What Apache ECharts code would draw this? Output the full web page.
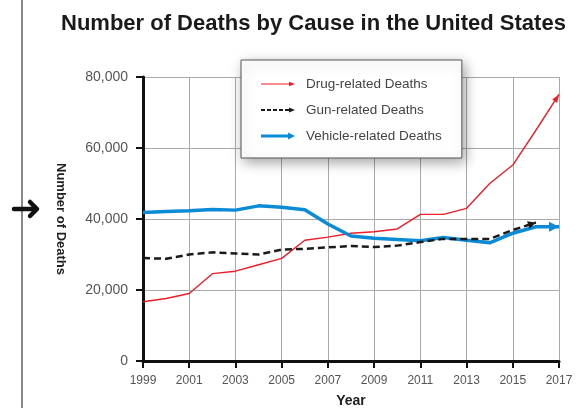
<!DOCTYPE html>
<html>
<head>
    <title>Number of Deaths by Cause</title>
    <script src="https://cdn.jsdelivr.net/npm/echarts@6/dist/echarts.min.js"></script>
    <style>
        body { margin: 0; background: #fff; }
        #chart { width: 580px; height: 408px; }
    </style>
</head>
<body>
    <div id="chart"></div>
    <script>
        // 数据
        const years = [1999, 2000, 2001, 2002, 2003, 2004, 2005, 2006, 2007, 2008,
                       2009, 2010, 2011, 2012, 2013, 2014, 2015, 2016, 2017];
        const drugDeaths = [16700, 17600, 19000, 24600, 25300, 27100, 28900, 34000, 34900, 36000,
                            36400, 37200, 41300, 41300, 43000, 50000, 55200, 65000, 75100];
        const gunDeaths = [29000, 28800, 30000, 30600, 30300, 30000, 31400, 31600, 32000, 32400,
                           32100, 32500, 33500, 34400, 34400, 34400, 36900, 39000];
        const vehicleDeaths = [41800, 42100, 42300, 42700, 42500, 43700, 43300, 42600, 38600, 35200,
                               34600, 34200, 33900, 34800, 34000, 33300, 36000, 37800, 37800];
        const seriesNames = ['Drug-related Deaths', 'Gun-related Deaths', 'Vehicle-related Deaths'];

        const font = 'Liberation Sans, Arial, sans-serif';
        const chart = echarts.init(document.getElementById('chart'));

        function pairs(vals) {
            return vals.map((v, i) => [years[i], v]);
        }

        const option = {
            backgroundColor: '#fff',
            animation: false,
            title: {
                text: 'Number of Deaths by Cause in the United States',
                left: 56, top: 8,
                textStyle: { fontSize: 22, fontWeight: 'bold', color: '#1a1a1a', fontFamily: font }
            },
            legend: {
                orient: 'vertical',
                left: 241, top: 60,
                padding: [17, 20, 15, 20],
                itemWidth: 34, itemHeight: 14, itemGap: 12,
                backgroundColor: '#fff',
                borderColor: '#555', borderWidth: 1,
                shadowBlur: 12, shadowColor: 'rgba(0,0,0,0.35)',
                shadowOffsetX: 3, shadowOffsetY: 4,
                itemStyle: { borderWidth: 0 },
                textStyle: { fontSize: 13.5, color: '#444', fontFamily: font, padding: [0, 0, 0, 6] },
                data: [
                    { name: seriesNames[0], icon: 'path://M0,3.5L29,3.5L29,4.6L0,4.6Z M28,1.8L34,4L28,6.2Z' },
                    { name: seriesNames[1], icon: 'path://M0,3L4,3L4,5L0,5Z M6,3L10,3L10,5L6,5Z M12,3L16,3L16,5L12,5Z M18,3L22,3L22,5L18,5Z M24,3L28,3L28,5L24,5Z M28,1.4L34,4L28,6.6Z' },
                    { name: seriesNames[2], icon: 'path://M0,2.4L28,2.4L28,5.6L0,5.6Z M27,0.4L34,4L27,7.6Z' }
                ]
            },
            grid: { left: 143, right: 21, top: 77, bottom: 47, outerBoundsMode: 'none' },
            xAxis: {
                type: 'value',
                min: 1999, max: 2017, interval: 2,
                name: 'Year', nameLocation: 'middle', nameGap: 33,
                nameTextStyle: { fontSize: 14, fontWeight: 'bold', color: '#222', fontFamily: font },
                axisLine: { show: true, lineStyle: { color: '#111', width: 3 } },
                axisTick: { show: true, length: 7, lineStyle: { color: '#111', width: 2 } },
                axisLabel: { fontSize: 12, color: '#555', margin: 14, fontFamily: font,
                             formatter: v => String(v) },
                splitLine: { show: true, lineStyle: { color: '#aaa', width: 1 } }
            },
            yAxis: {
                type: 'value',
                min: 0, max: 80000, interval: 20000,
                name: 'Number of Deaths', nameLocation: 'middle', nameGap: 76, nameRotate: -90,
                nameTextStyle: { fontSize: 13, fontWeight: 'bold', color: '#222', fontFamily: font },
                axisLine: { show: true, lineStyle: { color: '#111', width: 3 } },
                axisTick: { show: true, length: 7, lineStyle: { color: '#111', width: 2 } },
                axisLabel: { fontSize: 14, color: '#555', margin: 15, fontFamily: font,
                             formatter: v => v.toLocaleString('en-US') },
                splitLine: { show: true, lineStyle: { color: '#aaa', width: 1 } }
            },
            graphic: [
                { type: 'line', shape: { x1: 22, y1: 0, x2: 22, y2: 408 },
                  style: { stroke: '#888', lineWidth: 2 } },
                { type: 'line', shape: { x1: 14, y1: 209, x2: 36, y2: 209 },
                  style: { stroke: '#111', lineWidth: 4.5, lineCap: 'round' } },
                { type: 'polyline', shape: { points: [[30, 202], [37, 209], [30, 216]] },
                  style: { stroke: '#111', lineWidth: 4.5, lineCap: 'round', lineJoin: 'round', fill: 'none' } }
            ],
            series: [
                { name: seriesNames[0], type: 'line', symbol: 'none', z: 2,
                  color: '#ee1d27', lineStyle: { width: 1.4 }, data: pairs(drugDeaths) },
                { name: seriesNames[2], type: 'line', symbol: 'none', z: 3,
                  color: '#0b8ad6', lineStyle: { width: 3.5 }, data: pairs(vehicleDeaths) },
                { name: seriesNames[1], type: 'line', symbol: 'none', z: 4,
                  color: '#1a1a1a', lineStyle: { width: 2.5, type: [7, 4] }, data: pairs(gunDeaths) }
            ]
        };
        chart.setOption(option);

        // 末端箭头：按最后一段的方向旋转三角形
        function withArrow(vals, w, h) {
            const d = pairs(vals);
            const n = d.length;
            const p0 = chart.convertToPixel({ gridIndex: 0 }, d[n - 2]);
            const p1 = chart.convertToPixel({ gridIndex: 0 }, d[n - 1]);
            const dx = p1[0] - p0[0], dy = p1[1] - p0[1];
            const len = Math.sqrt(dx * dx + dy * dy);
            const ux = dx / len, uy = dy / len;
            const angle = Math.atan2(-dy, dx) * 180 / Math.PI;
            d[n - 1] = {
                value: d[n - 1],
                symbol: 'triangle',
                symbolSize: [w, h],
                symbolRotate: angle - 90,
                symbolOffset: [-ux * h / 2, -uy * h / 2]
            };
            return d;
        }

        chart.setOption({
            series: [
                { data: withArrow(drugDeaths, 6, 8) },
                { data: withArrow(vehicleDeaths, 10, 10) },
                { data: withArrow(gunDeaths, 8, 8) }
            ]
        });
    </script>
</body>
</html>
